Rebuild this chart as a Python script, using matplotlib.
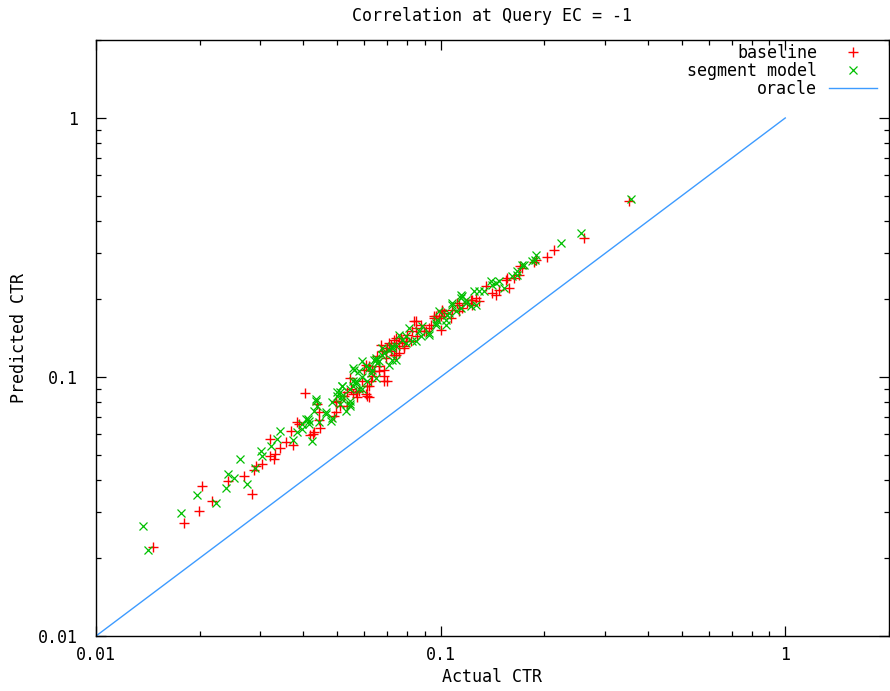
import matplotlib
matplotlib.use("Agg")
import matplotlib.pyplot as plt
from matplotlib.ticker import FixedLocator, FixedFormatter, LogLocator, NullFormatter

plt.rcParams['font.family'] = ['DejaVu Sans Mono']

title = "Correlation at Query EC = -1"
xlabel = "Actual CTR"
ylabel = "Predicted CTR"
tick_values = [0.01, 0.1, 1]
tick_labels = ["0.01", "0.1", "1"]
axis_limits = [0.01, 2]

baseline_x = [0.0146, 0.0180, 0.0199, 0.0203, 0.0217, 0.0241, 0.0268, 0.0283, 0.0287, 0.0292,
              0.0304, 0.0319, 0.0319, 0.0328, 0.0330, 0.0341, 0.0357, 0.0369, 0.0374, 0.0387,
              0.0403, 0.0419, 0.0425, 0.0439, 0.0445, 0.0445, 0.0448, 0.0498, 0.0498, 0.0536,
              0.0544, 0.0551, 0.0569, 0.0573, 0.0600, 0.0609, 0.0613, 0.0613, 0.0621, 0.0621,
              0.0629, 0.0633, 0.0642, 0.0655, 0.0664, 0.0677, 0.0686, 0.0686, 0.0695, 0.0700,
              0.0719, 0.0734, 0.0734, 0.0743, 0.0758, 0.0774, 0.0822, 0.0827, 0.0849, 0.0878,
              0.0908, 0.0926, 0.0958, 0.0970, 0.0990, 0.1003, 0.1010, 0.1024, 0.1072, 0.1116,
              0.1131, 0.1131, 0.1154, 0.1225, 0.1234, 0.1293, 0.1354, 0.1410, 0.1448, 0.1477,
              0.1547, 0.1558, 0.1579, 0.1632, 0.1688, 0.1699, 0.1722, 0.1865, 0.1890, 0.2034,
              0.2131, 0.2602, 0.351,
              0.0609, 0.0700, 0.0686, 0.0633, 0.0593, 0.0664, 0.0695, 0.0719, 0.0743, 0.0673,
              0.0710, 0.0758, 0.0784, 0.0800, 0.0769, 0.0743, 0.0509, 0.0498, 0.0555, 0.0581,
              0.0621, 0.0838, 0.0849, 0.0795, 0.0896, 0.0958, 0.1010, 0.1003, 0.1080, 0.1193,
              0.1234, 0.1267, 0.0939, 0.0855, 0.0784, 0.0492, 0.0430, 0.0384, 0.0526, 0.0536]
baseline_y = [0.0220, 0.0272, 0.0303, 0.0379, 0.0331, 0.0396, 0.0414, 0.0353, 0.0437, 0.0453,
              0.0461, 0.0577, 0.0496, 0.0483, 0.0505, 0.0532, 0.0562, 0.0620, 0.0547, 0.0660,
              0.0871, 0.0598, 0.0603, 0.0789, 0.0735, 0.0684, 0.0637, 0.0803, 0.0735, 0.0878,
              0.0987, 0.0902, 0.0878, 0.0840, 0.1060, 0.1108, 0.0927, 0.0848, 0.1098, 0.0840,
              0.0961, 0.1050, 0.1050, 0.1201, 0.1050, 0.1256, 0.1060, 0.0969, 0.1256, 0.1290,
              0.1326, 0.1386, 0.1212, 0.1314, 0.1234, 0.1374, 0.1374, 0.1502, 0.1643, 0.1585,
              0.1502, 0.1543, 0.1718, 0.1718, 0.1688, 0.1516, 0.1796, 0.1764, 0.1688, 0.1929,
              0.1895, 0.1796, 0.1845, 0.1982, 0.1895, 0.1964, 0.2247, 0.2110, 0.2073, 0.2168,
              0.2371, 0.2413, 0.2207, 0.2413, 0.2479, 0.2686, 0.2639, 0.2784, 0.2835, 0.291,
              0.310, 0.345, 0.480,
              0.0863, 0.0969, 0.1013, 0.1013, 0.0961, 0.1098, 0.1180, 0.1256, 0.1212, 0.1326,
              0.1349, 0.1349, 0.1290, 0.1450, 0.1411, 0.1411, 0.0775, 0.0811, 0.0863, 0.0886,
              0.0919, 0.1643, 0.1543, 0.1374, 0.1502, 0.1688, 0.1812, 0.1718, 0.1812, 0.1929,
              0.1982, 0.2018, 0.1585, 0.1437, 0.1314, 0.0709, 0.0614, 0.0672, 0.0848, 0.0775]

segment_x = [0.0137, 0.0142, 0.0177, 0.0196, 0.0223, 0.0239, 0.0241, 0.0251, 0.0261, 0.0275,
             0.0289, 0.0302, 0.0304, 0.0323, 0.0336, 0.0341, 0.0372, 0.0382, 0.0397, 0.0408,
             0.0416, 0.0416, 0.0422, 0.0430, 0.0436, 0.0445, 0.0466, 0.0466, 0.0485, 0.0485,
             0.0509, 0.0509, 0.0519, 0.0519, 0.0533, 0.0544, 0.0544, 0.0555, 0.0555, 0.0562,
             0.0569, 0.0581, 0.0593, 0.0593, 0.0609, 0.0621, 0.0629, 0.0642, 0.0651, 0.0655,
             0.0664, 0.0677, 0.0686, 0.0710, 0.0710, 0.0724, 0.0724, 0.0743, 0.0758, 0.0795,
             0.0811, 0.0849, 0.0867, 0.0884, 0.0926, 0.0970, 0.0977, 0.1037, 0.1044, 0.1080,
             0.1080, 0.1109, 0.1147, 0.1147, 0.1154, 0.1185, 0.1185, 0.1267, 0.1293, 0.1336,
             0.1400, 0.1410, 0.1448, 0.1477, 0.1527, 0.1611, 0.1665, 0.1665, 0.1722, 0.1745,
             0.1840, 0.1877, 0.1890, 0.2233, 0.2551, 0.356,
             0.0555, 0.0593, 0.0651, 0.0677, 0.0724, 0.0774, 0.0795, 0.0519, 0.0502, 0.0544,
             0.0569, 0.0613, 0.0651, 0.0633, 0.0743, 0.0581, 0.1147, 0.1058, 0.0970, 0.0926,
             0.0878, 0.0827, 0.1225, 0.1250, 0.1037, 0.0990, 0.0436, 0.0439, 0.0411, 0.0395,
             0.0502, 0.0519, 0.0544, 0.0482]
segment_y = [0.0265, 0.0214, 0.0298, 0.0350, 0.0326, 0.0372, 0.0422, 0.0407, 0.0483, 0.0386,
             0.0445, 0.0518, 0.0496, 0.0542, 0.0577, 0.0620, 0.0572, 0.0614, 0.0631, 0.0690,
             0.0678, 0.0660, 0.0567, 0.0741, 0.0811, 0.0672, 0.0735, 0.0722, 0.0803, 0.0696,
             0.0878, 0.0789, 0.0848, 0.0825, 0.0741, 0.0789, 0.0775, 0.0961, 0.0927, 0.1060,
             0.0961, 0.0902, 0.1004, 0.0902, 0.1098, 0.1079, 0.1032, 0.1159, 0.1180, 0.1128,
             0.1148, 0.1212, 0.1234, 0.1267, 0.1108, 0.1290, 0.1159, 0.1314, 0.1450, 0.1437,
             0.1543, 0.1374, 0.1502, 0.1571, 0.1450, 0.1585, 0.1658, 0.1585, 0.1733, 0.1929,
             0.1895, 0.1796, 0.2073, 0.1845, 0.2054, 0.1982, 0.1929, 0.1895, 0.2148, 0.2148,
             0.2349, 0.2267, 0.2308, 0.2349, 0.2207, 0.2457, 0.2569, 0.2479, 0.271, 0.271,
             0.2809, 0.2835, 0.296, 0.330, 0.361, 0.485,
             0.1079, 0.1148, 0.1159, 0.1290, 0.1314, 0.1386, 0.1349, 0.0919, 0.0848, 0.0811,
             0.0944, 0.0969, 0.0987, 0.1060, 0.1159, 0.1050, 0.2018, 0.1764, 0.1614, 0.1476,
             0.1437, 0.1374, 0.1878, 0.2148, 0.1658, 0.1796, 0.0825, 0.0775, 0.0690, 0.0660,
             0.0878, 0.0927, 0.0902, 0.0678]

oracle_x = [0.01, 1]
oracle_y = [0.01, 1]

W, H = 890, 691
fig = plt.figure(figsize=(W / 100, H / 100), dpi=100)
ax = fig.add_axes([96 / W, 1 - 636 / H, (889 - 96) / W, (636 - 40) / H])

ax.plot(baseline_x, baseline_y, linestyle='none', marker='+', color='#ff0000',
        markersize=6.5, markeredgewidth=1.0, label='baseline')
ax.plot(segment_x, segment_y, linestyle='none', marker='x', color='#00c000',
        markersize=5.5, markeredgewidth=0.9, label='segment model')
ax.plot(oracle_x, oracle_y, color='#3d9bff', linewidth=1.0, label='oracle')

ax.set_xscale('log')
ax.set_yscale('log')
ax.set_xlim(axis_limits)
ax.set_ylim(axis_limits)

for axis in (ax.xaxis, ax.yaxis):
    axis.set_major_locator(FixedLocator(tick_values))
    axis.set_major_formatter(FixedFormatter(tick_labels))
    axis.set_minor_locator(LogLocator(base=10, subs=range(2, 10)))
    axis.set_minor_formatter(NullFormatter())

ax.tick_params(which='both', direction='in', top=True, right=True, labelsize=12, width=0.9)
ax.tick_params(which='major', length=7)
ax.tick_params(which='minor', length=3.5)
ax.tick_params(axis='x', which='major', pad=7)
ax.tick_params(axis='y', which='major', pad=13)
for s in ax.spines.values():
    s.set_linewidth(1.0)

ax.set_title(title, fontsize=12, pad=14)
ax.set_xlabel(xlabel, fontsize=12, labelpad=3)
ax.set_ylabel(ylabel, fontsize=12, labelpad=7)

leg = ax.legend(loc='upper right', bbox_to_anchor=(1 - 12 / 793, 1 - 4 / 596),
                markerfirst=False, frameon=False, fontsize=12, borderpad=0,
                borderaxespad=0, handlelength=2.9, handletextpad=0.7,
                labelspacing=0.0)

fig.savefig('out.png', dpi=100)
